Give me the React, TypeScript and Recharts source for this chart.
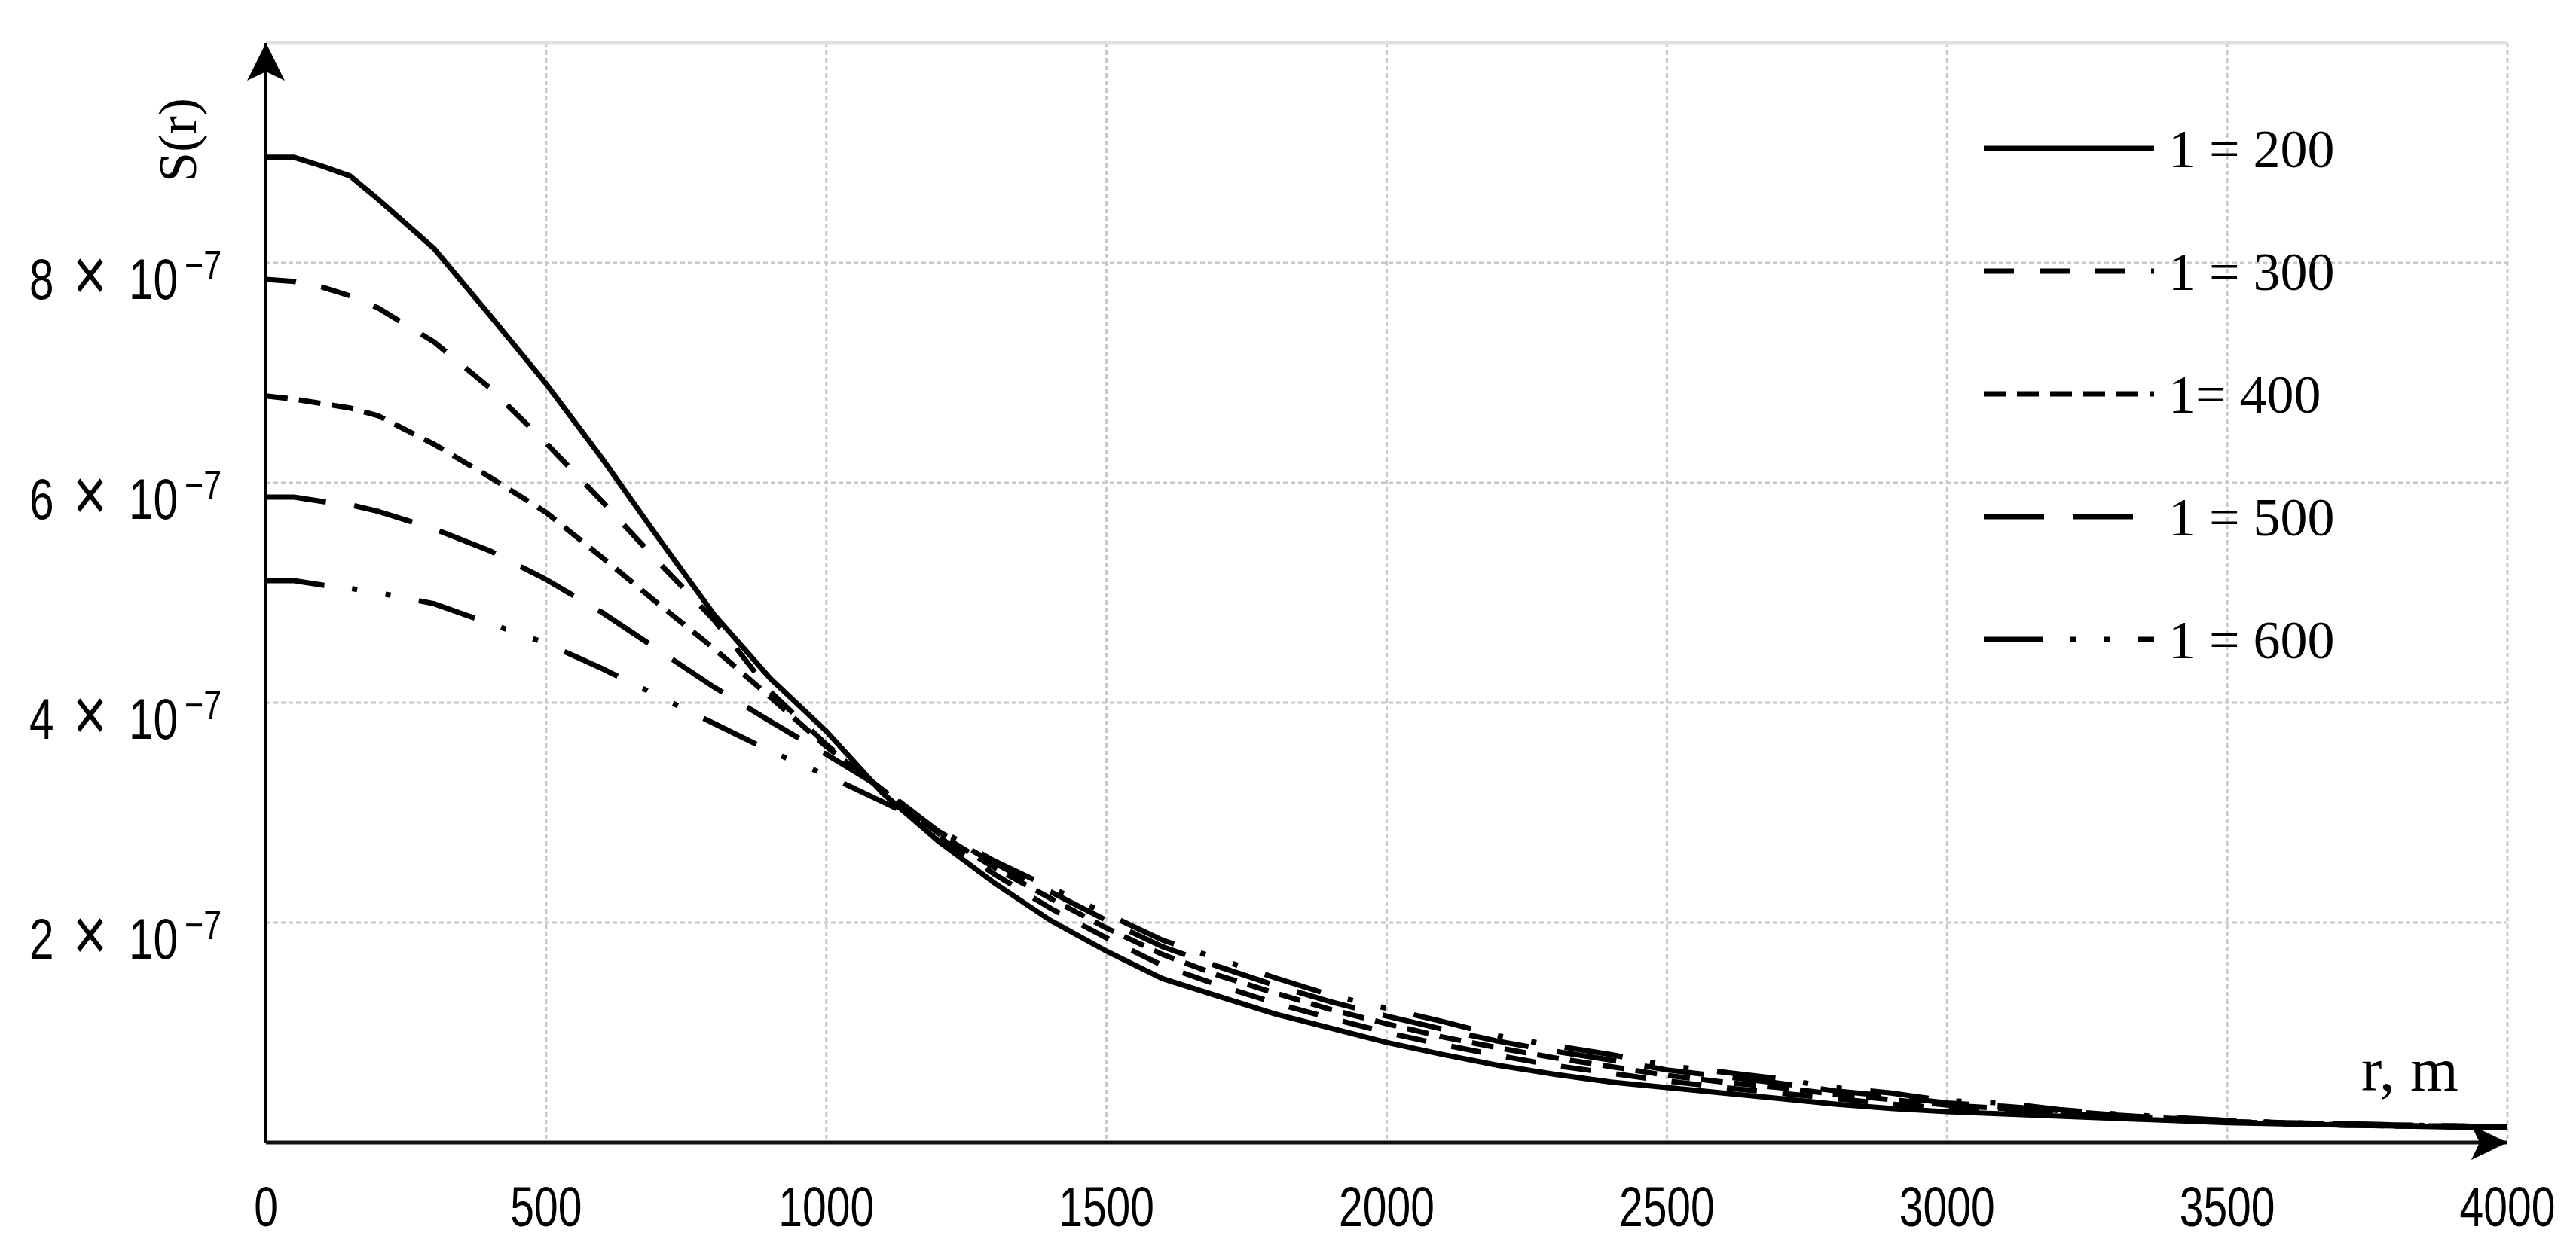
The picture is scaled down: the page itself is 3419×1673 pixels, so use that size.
import React from 'react';
import {
  LineChart,
  Line,
  XAxis,
  YAxis,
  CartesianGrid,
  Legend,
  ReferenceDot,
  ReferenceLine,
  Label,
} from 'recharts';

const W = 3419;
const H = 1673;

// narrow tick font: Liberation Sans squeezed horizontally
const FONT_TICK = "'Liberation Sans', Arial, sans-serif";
const FONT_SERIF = "'Liberation Serif', 'Times New Roman', serif";
const SQUEEZE = 0.77;

// r, m
const R = [
  0, 50, 100, 150, 200, 300, 400, 500, 600, 700, 800, 900, 1000,
  1100, 1200, 1300, 1400, 1500, 1600, 1700, 1800, 1900, 2000,
  2100, 2200, 2300, 2400, 2500, 2600, 2700, 2800, 2900, 3000,
  3100, 3200, 3300, 3400, 3500, 3600, 3700, 3800, 3900, 4000,
];

// S(r), in units of 1e-7
const S_200 = [
  8.96, 8.96, 8.88, 8.79, 8.58, 8.13, 7.52, 6.90, 6.22, 5.50, 4.80, 4.22, 3.74,
  3.18, 2.74, 2.36, 2.02, 1.74, 1.49, 1.33, 1.17, 1.04, 0.91,
  0.80, 0.70, 0.62, 0.55, 0.50, 0.45, 0.40, 0.35, 0.31, 0.28,
  0.26, 0.24, 0.22, 0.20, 0.18, 0.17, 0.16, 0.15, 0.14, 0.14,
];
const S_300 = [
  7.85, 7.83, 7.78, 7.70, 7.59, 7.28, 6.86, 6.36, 5.83, 5.28, 4.75, 4.10, 3.62,
  3.20, 2.78, 2.44, 2.13, 1.86, 1.61, 1.43, 1.27, 1.13, 1.00,
  0.89, 0.79, 0.70, 0.63, 0.56, 0.50, 0.45, 0.40, 0.35, 0.31,
  0.29, 0.26, 0.23, 0.21, 0.19, 0.17, 0.16, 0.15, 0.15, 0.14,
];
const S_400 = [
  6.79, 6.76, 6.72, 6.68, 6.61, 6.35, 6.05, 5.73, 5.32, 4.90, 4.49, 4.05, 3.60,
  3.21, 2.81, 2.50, 2.22, 1.95, 1.71, 1.52, 1.36, 1.21, 1.08,
  0.96, 0.86, 0.77, 0.69, 0.61, 0.55, 0.50, 0.44, 0.39, 0.34,
  0.31, 0.27, 0.24, 0.22, 0.19, 0.18, 0.16, 0.15, 0.15, 0.14,
];
const S_500 = [
  5.87, 5.87, 5.83, 5.80, 5.74, 5.58, 5.38, 5.12, 4.82, 4.48, 4.14, 3.83, 3.53,
  3.22, 2.83, 2.54, 2.28, 2.02, 1.78, 1.60, 1.43, 1.28, 1.15,
  1.03, 0.92, 0.83, 0.75, 0.66, 0.60, 0.54, 0.47, 0.42, 0.36,
  0.33, 0.29, 0.25, 0.22, 0.20, 0.18, 0.17, 0.16, 0.15, 0.14,
];
const S_600 = [
  5.11, 5.11, 5.07, 5.04, 5.00, 4.90, 4.72, 4.54, 4.31, 4.06, 3.81, 3.56, 3.34,
  3.10, 2.85, 2.56, 2.32, 2.08, 1.84, 1.67, 1.50, 1.34, 1.22,
  1.10, 0.97, 0.88, 0.80, 0.70, 0.64, 0.58, 0.50, 0.45, 0.38,
  0.36, 0.30, 0.26, 0.23, 0.20, 0.18, 0.17, 0.16, 0.15, 0.14,
];

const X_TICKS = [0, 500, 1000, 1500, 2000, 2500, 3000, 3500, 4000];
const Y_TICKS = [2, 4, 6, 8, 10];

const SERIES = [
  { key: 's200', name: '1 = 200', values: S_200, dash: undefined },
  { key: 's300', name: '1 = 300', values: S_300, dash: '40 34' },
  { key: 's400', name: '1= 400', values: S_400, dash: '29 15' },
  { key: 's500', name: '1 = 500', values: S_500, dash: '80 38' },
  { key: 's600', name: '1 = 600', values: S_600, dash: '78 37 7 38 7 38' },
];

const data = R.map((r, i) => {
  const row: Record<string, number> = { r };
  SERIES.forEach((s) => {
    row[s.key] = s.values[i];
  });
  return row;
});

function Narrow({ x, y, size, anchor = 'start', children }: any) {
  return (
    <text
      transform={`translate(${x},${y}) scale(${SQUEEZE},1)`}
      textAnchor={anchor}
      fontFamily={FONT_TICK}
      fontSize={size}
      fill="#000"
    >
      {children}
    </text>
  );
}

function XTick({ x, y, payload }: any) {
  return (
    <Narrow x={x} y={y + 111} size={74} anchor="middle">
      {payload.value}
    </Narrow>
  );
}

function YTick({ x, y, payload }: any) {
  const v = payload.value;
  if (v >= 10) return <g />;
  return (
    <g>
      <Narrow x={x - 314} y={y + 48} size={76}>{v}</Narrow>
      <Narrow x={x - 256} y={y + 50} size={100}>×</Narrow>
      <Narrow x={x - 182} y={y + 48} size={76}>10</Narrow>
      <Narrow x={x - 108} y={y + 22} size={56}>−7</Narrow>
    </g>
  );
}

function LegendBox() {
  return (
    <svg width={520} height={800}>
      {SERIES.map((s, i) => {
        const base = 102 + i * 163;
        return (
          <g key={s.key}>
            <line x1={23} x2={249} y1={base - 25} y2={base - 25} stroke="#000" strokeWidth={7} strokeDasharray={s.dash} />
            <text x={268} y={base} fontFamily={FONT_SERIF} fontSize={72} fill="#000">{s.name}</text>
          </g>
        );
      })}
    </svg>
  );
}

const upArrow = ({ cx, cy }: any) => (
  <path d={`M${cx},${cy} L${cx + 25},${cy + 50} L${cx},${cy + 38} L${cx - 25},${cy + 50} Z`} fill="#000" />
);

const rightArrow = ({ cx, cy }: any) => (
  <path d={`M${cx},${cy} L${cx - 48},${cy - 23} L${cx - 37},${cy} L${cx - 48},${cy + 23} Z`} fill="#000" />
);

export default function App() {
  return (
    <div style={{ position: 'absolute', left: 0, top: 0, width: W, height: H, background: '#fff' }}>
      <LineChart width={W} height={H} data={data} margin={{ top: 57, right: 91, bottom: 0, left: 23 }}>
        <CartesianGrid stroke="#c8c8c8" strokeWidth={3} strokeDasharray="6 4" />
        <ReferenceLine y={10} stroke="#e0e0e0" strokeWidth={5} />
        <XAxis
          dataKey="r"
          type="number"
          domain={[0, 4000]}
          ticks={X_TICKS}
          interval={0}
          height={156}
          tickLine={false}
          tickSize={0}
          tickMargin={0}
          axisLine={{ stroke: '#111', strokeWidth: 5 }}
          tick={(p: any) => <XTick {...p} />}
        >
          <Label
            content={() => (
              <text x={3134} y={1448} fontFamily={FONT_SERIF} fontSize={82} fill="#000">r, m</text>
            )}
          />
        </XAxis>
        <YAxis
          type="number"
          domain={[0, 10]}
          ticks={Y_TICKS}
          interval={0}
          width={330}
          tickLine={false}
          tickSize={0}
          tickMargin={0}
          axisLine={{ stroke: '#000', strokeWidth: 4 }}
          tick={(p: any) => <YTick {...p} />}
        >
          <Label
            content={() => (
              <text
                transform="translate(236,186) rotate(-90)"
                textAnchor="middle"
                dominantBaseline="central"
                fontFamily={FONT_SERIF}
                fontSize={72}
                fill="#000"
              >
                S(r)
              </text>
            )}
          />
        </YAxis>
        {SERIES.map((s) => (
          <Line
            key={s.key}
            dataKey={s.key}
            name={s.name}
            type="linear"
            stroke="#000"
            strokeWidth={7}
            strokeDasharray={s.dash}
            dot={false}
            activeDot={false}
            isAnimationActive={false}
          />
        ))}
        <ReferenceDot x={0} y={10} r={1} ifOverflow="visible" shape={upArrow} />
        <ReferenceDot x={4000} y={0} r={1} ifOverflow="visible" shape={rightArrow} />
        <Legend
          layout="vertical"
          align="center"
          verticalAlign="middle"
          content={() => <LegendBox />}
          wrapperStyle={{ position: 'absolute', left: 2610, top: 120, width: 520, height: 800 }}
        />
      </LineChart>
    </div>
  );
}
